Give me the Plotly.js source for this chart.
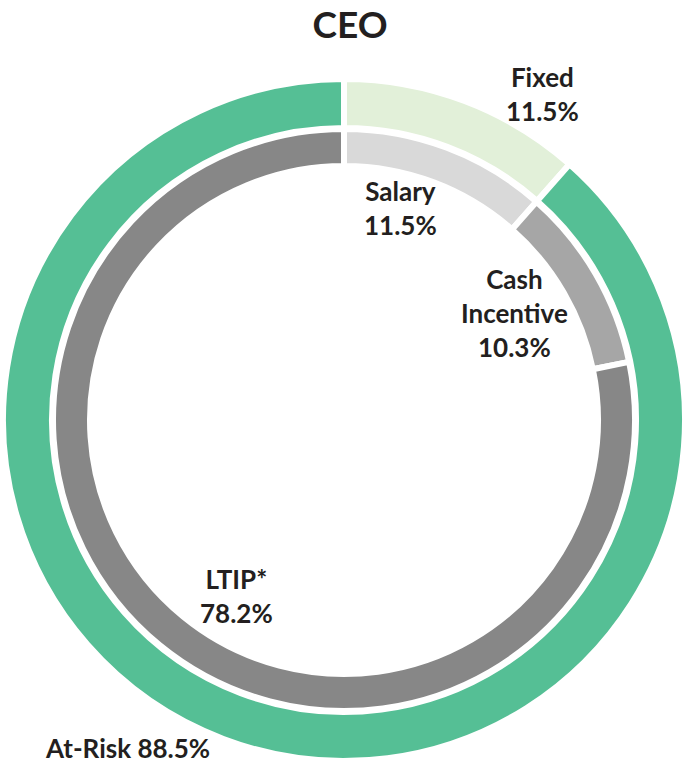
<!DOCTYPE html>
<html>
<head>
<meta charset="utf-8">
<script src="https://cdn.plot.ly/plotly-3.0.1.min.js"></script>
<style>html,body{margin:0;padding:0;background:#fff}#chart{width:686px;height:767px}</style>
</head>
<body>
<div id="chart"></div>
<script>
// Outer ring: pay mix
const outerLabels = ["Fixed", "At-Risk"];
const outerValues = [11.5, 88.5];
const outerColors = ["#e2f0d9", "#55bf95"];

// Inner ring: pay components
const innerLabels = ["Salary", "Cash Incentive", "LTIP*"];
const innerValues = [11.5, 10.3, 78.2];
const innerColors = ["#d9d9d9", "#a6a6a6", "#878787"];

const chartTitle = "CEO";

const W = 686, H = 767;
const cx = 344, cy = 420;
const lineW = 6;

function dom(r) {
  return {
    x: [(cx - r) / W, (cx + r) / W],
    y: [(H - cy - r) / H, (H - cy + r) / H]
  };
}

const outerR = 338 + lineW / 2, outerIn = 295 - lineW / 2;
const innerR = 288 + lineW / 2, innerIn = 257 - lineW / 2;

const traces = [
  {
    type: "pie", labels: outerLabels, values: outerValues, sort: false,
    direction: "clockwise", rotation: 0, hole: outerIn / outerR,
    domain: dom(outerR), textinfo: "none", hoverinfo: "label+percent",
    marker: { colors: outerColors, line: { color: "#ffffff", width: lineW } }
  },
  {
    type: "pie", labels: innerLabels, values: innerValues, sort: false,
    direction: "clockwise", rotation: 0, hole: innerIn / innerR,
    domain: dom(innerR), textinfo: "none", hoverinfo: "label+percent",
    marker: { colors: innerColors, line: { color: "#ffffff", width: lineW } }
  }
];

const fmt = v => v.toFixed(1) + "%";
const font = { family: "Lato, 'Open Sans', sans-serif", size: 26, color: "#231f20" };

function ann(text, px, py) {
  return { text: "<b>" + text + "</b>", x: px / W, y: 1 - py / H, xref: "paper", yref: "paper",
    showarrow: false, xanchor: "center", yanchor: "middle", font: font, align: "center" };
}

const annotations = [
  ann(outerLabels[0] + "<br>" + fmt(outerValues[0]), 542, 94),
  ann(outerLabels[1] + " " + fmt(outerValues[1]), 127, 748),
  ann(innerLabels[0] + "<br>" + fmt(innerValues[0]), 400, 208),
  ann("Cash<br>Incentive<br>" + fmt(innerValues[1]), 514, 313),
  ann(innerLabels[2] + "<br>" + fmt(innerValues[2]), 236, 596)
];

const layout = {
  width: W, height: H,
  margin: { l: 0, r: 0, t: 0, b: 0 },
  paper_bgcolor: "#ffffff",
  showlegend: false,
  title: { text: "<b>" + chartTitle + "</b>", x: 350 / W, xanchor: "center", y: 1 - 25 / H, yanchor: "middle",
    font: { family: "Lato, 'Open Sans', sans-serif", size: 37, color: "#231f20" } },
  annotations: annotations
};

Plotly.newPlot("chart", traces, layout, { displayModeBar: false, staticPlot: true });
</script>
</body>
</html>
